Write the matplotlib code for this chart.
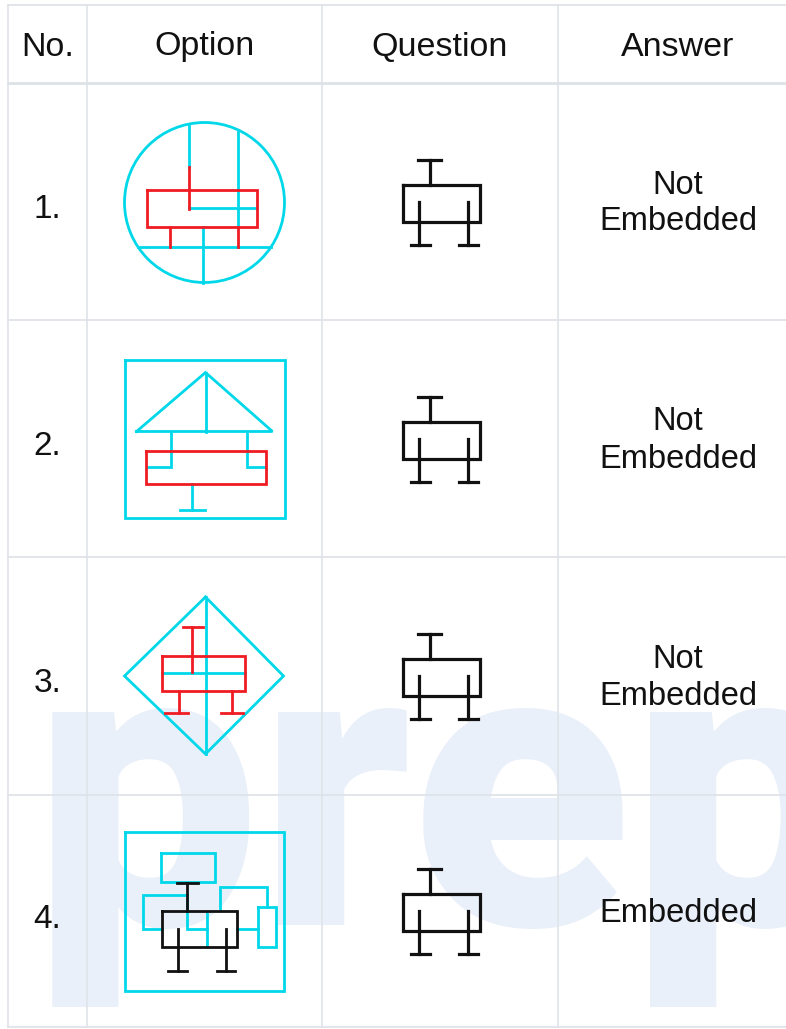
import matplotlib.pyplot as plt
from matplotlib.patches import Circle

headers = ["No.", "Option", "Question", "Answer"]
row_numbers = ["1.", "2.", "3.", "4."]
answers = ["Not\nEmbedded", "Not\nEmbedded", "Not\nEmbedded", "Embedded"]

# table grid (pixels)
col_edges = [8, 87, 322, 558, 798]
row_edges = [5, 83, 320, 557, 795, 1027]

CYAN = '#00d8ea'
RED = '#f01c24'
BLACK = '#111111'
colors = {'c': CYAN, 'r': RED, 'k': BLACK}


def box(x0, y0, x1, y1):
    return [(x0, y0), (x1, y0), (x1, y1), (x0, y1), (x0, y0)]


# shapes: offsets from the centre of their cell, y pointing down
question_shape = [
    ('k', box(-37, -17, 40, 20)),
    ('k', [(-10, -17), (-10, -42)]),
    ('k', [(-22, -42), (1, -42)]),
    ('k', [(-21, 0), (-21, 43)]),
    ('k', [(-29, 43), (-10, 43)]),
    ('k', [(28, 0), (28, 43)]),
    ('k', [(19, 43), (38, 43)]),
]

option1 = [
    ('c', [(-16, -77), (-16, -35)]),
    ('c', [(-16, 6), (51, 6)]),
    ('c', [(33, -71), (33, 25)]),
    ('c', [(-67, 45), (66, 45)]),
    ('c', [(-2, 25), (-2, 81)]),
    ('r', [(-16, -35), (-16, 7)]),
    ('r', box(-58, -12, 52, 25)),
    ('r', [(-35, 25), (-35, 45)]),
    ('r', [(33, 25), (33, 45)]),
]
option1_circle = (0, 1, 80)

option2 = [
    ('c', box(-80, -79, 80, 79)),
    ('c', [(-68, -7), (1, -66), (68, -7), (-68, -7)]),
    ('c', [(1, -66), (1, -7)]),
    ('c', [(-34, -7), (-34, 28), (-58, 28)]),
    ('c', [(42, -7), (42, 28), (60, 28)]),
    ('c', [(-13, 45), (-13, 71)]),
    ('c', [(-25, 71), (0, 71)]),
    ('r', box(-59, 12, 61, 45)),
]

option3 = [
    ('c', [(1, -79), (79, 0), (1, 78), (-80, 0), (1, -79)]),
    ('c', [(1, -79), (1, 78)]),
    ('c', [(-43, -3), (40, -3)]),
    ('r', box(-43, -20, 40, 15)),
    ('r', [(-13, -49), (-13, -4)]),
    ('r', [(-22, -49), (-2, -49)]),
    ('r', [(-26, 15), (-26, 37)]),
    ('r', [(-40, 37), (-17, 37)]),
    ('r', [(27, 15), (27, 37)]),
    ('r', [(16, 37), (38, 37)]),
]

option4 = [
    ('c', box(-80, -79, 79, 80)),
    ('c', box(-44, -58, 10, -29)),
    ('c', [(-43, 18), (-62, 18), (-62, -16), (-18, -16), (-18, 18), (2, 18)]),
    ('c', [(2, 1), (2, 35)]),
    ('c', [(15, -1), (15, -24), (62, -24), (62, -4)]),
    ('c', [(32, 18), (53, 18)]),
    ('c', box(53, -4, 71, 36)),
    ('k', box(-43, 0, 32, 36)),
    ('k', [(-18, -28), (-18, 0)]),
    ('k', [(-28, -28), (-7, -28)]),
    ('k', [(-27, 18), (-27, 60)]),
    ('k', [(-37, 60), (-18, 60)]),
    ('k', [(21, 18), (21, 60)]),
    ('k', [(12, 60), (30, 60)]),
]
options = [option1, option2, option3, option4]

plt.rcParams['font.family'] = ['Liberation Sans', 'DejaVu Sans']

fig = plt.figure(figsize=(7.86, 10.29), dpi=100)
ax = fig.add_axes([0, 0, 1, 1])
ax.set_xlim(0, 786)
ax.set_ylim(1029, 0)
ax.axis('off')

col_c = [(a + b) / 2 for a, b in zip(col_edges[:-1], col_edges[1:])]
row_c = [(a + b) / 2 for a, b in zip(row_edges[:-1], row_edges[1:])]

# watermark in the background
ax.text(33, 925, "prep", fontsize=290, family='Roboto', fontweight='black',
        color='#eaf0fa', ha='left', va='baseline', zorder=0)

# grid
for x in col_edges:
    ax.plot([x, x], [row_edges[0], row_edges[-1]], color='#dfe4ea', lw=1.2, zorder=1)
for i, y in enumerate(row_edges):
    ax.plot([col_edges[0], col_edges[-1]], [y, y], color='#dde2e8',
            lw=2.0 if i == 1 else 1.2, zorder=1)

# header
for x, h in zip(col_c, headers):
    ax.text(x, row_c[0] + 3, h, fontsize=24.5, color=BLACK, ha='center', va='center', zorder=3)


def draw_shape(shape, cx, cy, lw):
    for c, pts in shape:
        xs = [cx + p[0] for p in pts]
        ys = [cy + p[1] for p in pts]
        ax.plot(xs, ys, color=colors[c], lw=lw, solid_capstyle='projecting',
                solid_joinstyle='miter', zorder=4 if c == 'c' else 5)


for i in range(4):
    cy = row_c[i + 1]
    ax.text(col_c[0], cy + 8, row_numbers[i], fontsize=24, color=BLACK,
            ha='center', va='center', zorder=3)
    ax.text(col_c[3], cy + 2, answers[i], fontsize=23.5, color=BLACK,
            ha='center', va='center', linespacing=1.25, zorder=3)
    if i == 0:
        ox, oy, r = option1_circle
        ax.add_patch(Circle((col_c[1] + ox, cy + oy), r, fill=False,
                            edgecolor=CYAN, lw=2.0, zorder=4))
    draw_shape(options[i], col_c[1], cy, 2.0)
    draw_shape(question_shape, col_c[2], cy, 2.3)

fig.savefig('out.png', dpi=100)
